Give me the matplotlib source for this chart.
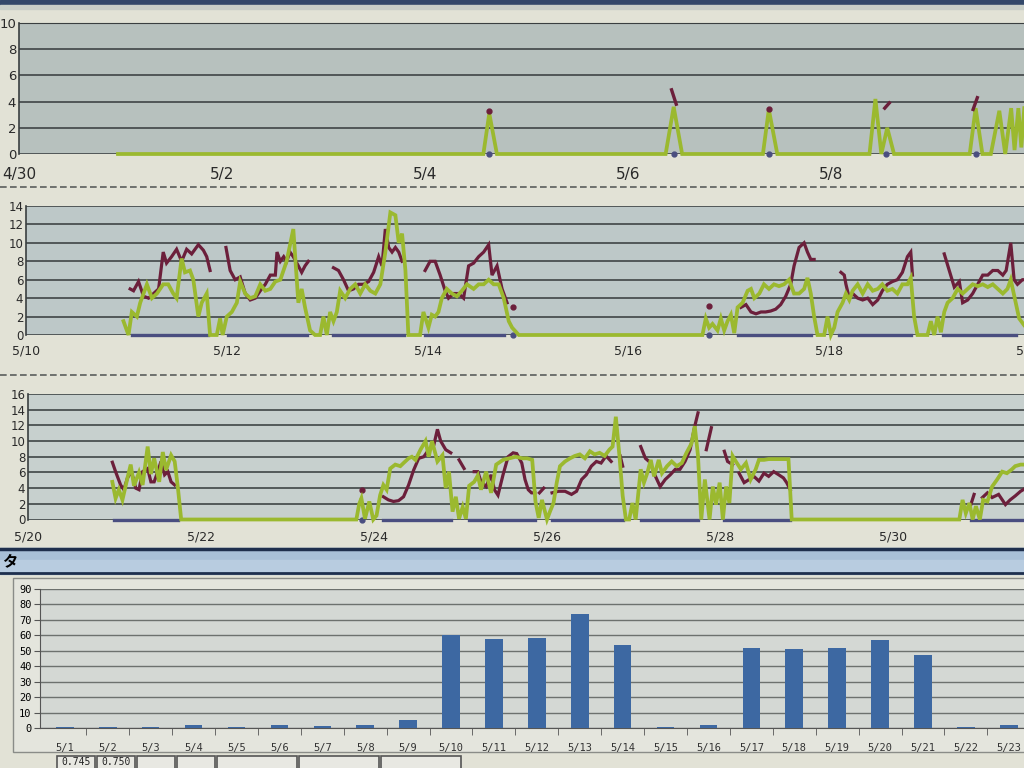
import numpy as np
import matplotlib
matplotlib.use("Agg")
import matplotlib.pyplot as plt
from matplotlib.patches import Rectangle

nan = np.nan

# ---- panel 1 : 4/30 - 5/10 (hours from 4/30 00:00) ----
p1_ticks = ["4/30", "5/2", "5/4", "5/6", "5/8"]
p1_green_h = [23.4, 109.8, 111.2, 113.0, 152.9, 154.8, 156.8, 175.9, 177.3, 179.3,
              201.1, 202.5, 203.9, 205.3, 206.9, 224.8, 226.2, 227.8, 229.8, 231.8,
              233.2, 234.6, 235.4, 236.3, 237.0, 237.7]
p1_green_v = [0, 0, 3.1, 0, 0, 3.6, 0, 0, 3.4, 0,
              0, 4.2, 0, 2.0, 0, 0, 3.5, 0, 0, 3.3,
              0, 3.5, 0.3, 3.5, 0.5, 3.5]
p1_red_h = [111.2, nan, 154.3, 155.4, nan, 177.3, nan, 204.7, 205.8, nan, 225.6, 226.6]
p1_red_v = [3.25, nan, 4.9, 3.8, nan, 3.45, nan, 3.5, 3.9, nan, 3.4, 4.3]
p1_blue_h = [111.2, nan, 154.8, nan, 177.3, nan, 204.9, nan, 226.2]

# ---- panel 2 : 5/10 - 5/20 ----
p2_ticks = ["5/10", "5/12", "5/14", "5/16", "5/18", "5/20"]
p2_green_h = [23.3, 24.5, 25.3, 26.5, 27.3, 28.9, 30.1, 31.3, 32.8, 34.0, 35.2, 36.0,
              37.2, 38.0, 39.2, 40.0, 41.2, 42.0, 43.2, 44.0, 45.6, 46.4, 47.0, 48.0,
              49.2, 50.4, 51.2, 52.4, 53.6, 54.8, 56.0, 57.2, 58.4, 59.6, 60.8, 62.3,
              63.9, 65.1, 65.9, 66.7, 67.9, 69.1, 70.3, 71.1, 71.9, 72.7, 73.5, 74.3,
              75.1, 76.3, 77.5, 78.7, 79.9, 81.1, 82.3, 83.5, 84.7, 85.9, 87.1, 88.3,
              89.1, 89.9, 90.7, 91.4, 94.2, 95.0, 96.2, 97.0, 97.8, 98.6, 99.4, 100.6,
              101.8, 103.0, 104.2, 105.4, 107.0, 108.2, 109.4, 110.6, 111.8, 113.0, 114.2, 115.4,
              116.2, 117.8, 161.7, 162.5, 163.3, 164.1, 165.3, 166.1, 166.9, 167.7, 168.5, 169.3,
              170.1, 171.3, 172.5, 173.3, 174.1, 175.3, 176.4, 177.6, 178.8, 180.0, 181.2, 182.4,
              183.6, 184.8, 186.0, 186.8, 187.6, 188.4, 189.2, 190.8, 191.6, 192.4, 193.2, 194.0,
              195.2, 196.0, 196.8, 197.6, 198.8, 200.0, 201.2, 202.4, 203.6, 204.7, 205.9, 207.1,
              208.3, 209.5, 210.7, 211.5, 212.3, 213.1, 215.5, 216.3, 217.1, 217.9, 218.7, 219.5,
              220.3, 221.5, 222.7, 223.9, 225.1, 226.3, 227.5, 228.7, 229.9, 231.1, 232.3, 233.5,
              234.6, 235.4, 236.6, 237.4, 238.7, 240.0]
p2_green_v = [1.5, 0, 2.5, 2.0, 3.5, 5.5, 4.0, 4.5, 5.5, 5.5, 4.5, 4.0,
              8.3, 6.8, 7.0, 6.0, 2.0, 3.5, 4.5, 0, 0, 1.8, 0, 2.0,
              2.5, 3.5, 5.8, 4.5, 4.0, 4.2, 5.5, 4.8, 5.0, 5.8, 6.0, 8.0,
              11.5, 3.5, 5.0, 3.0, 0.5, 0, 0, 2.0, 0, 2.5, 1.5, 2.5,
              4.8, 4.0, 5.0, 5.5, 4.5, 5.5, 4.8, 4.5, 5.5, 9.0, 13.3, 13.0,
              10.0, 11.0, 7.0, 0, 0, 2.5, 0.8, 2.2, 2.0, 2.5, 4.0, 5.0,
              4.5, 4.2, 4.8, 5.5, 5.0, 5.5, 5.5, 6.0, 5.5, 5.5, 4.0, 1.5,
              0.8, 0, 0, 1.8, 0.8, 1.2, 0.5, 1.8, 0.5, 1.5, 2.2, 0.2,
              3.0, 3.5, 4.8, 5.0, 4.0, 4.5, 5.5, 5.0, 5.5, 5.3, 5.5, 6.0,
              4.5, 4.5, 5.0, 6.2, 4.5, 2.0, 0, 0, 2.0, 0, 0.8, 2.5,
              3.5, 4.5, 3.8, 4.8, 5.5, 4.5, 5.5, 4.8, 5.0, 5.5, 4.8, 5.0,
              4.5, 5.5, 5.5, 6.2, 2.0, 0, 0, 1.5, 0, 2.0, 0.3, 2.5,
              3.5, 4.0, 5.0, 4.5, 5.0, 5.5, 5.3, 5.5, 5.2, 5.5, 5.0, 4.5,
              5.0, 6.0, 3.5, 1.8, 1.0, 0.5]
p2_red_h = [24.9, 25.7, 26.9, 28.1, 29.3, 30.5, 31.7, 32.8, 33.6, 34.8, 36.0, 37.2,
            38.4, 39.6, 41.2, 42.4, 43.2, 44.0, nan,
            47.8, 48.8, 50.0, 51.2, 52.4, 53.6, 54.8, 56.0, 57.2, 58.4, 59.6, 60.0,
            60.8, 61.6, 62.3, 63.1, 63.9, 65.1, 65.9, 66.7, 67.5, nan,
            73.5, 74.7, 75.9, 77.1, 78.3, 79.5, 80.7, 81.9, 83.1, 84.3, 85.1, 85.9,
            86.7, 87.5, 88.3, 89.1, 89.9, nan,
            95.4, 96.6, 97.8, 99.0, 100.2, 101.0, 102.2, 103.4, 104.6, 105.8, 107.0, 108.2,
            109.4, 110.6, 111.4, 112.6, 113.8, 115.0, nan,
            116.5, nan, 163.3, nan,
            170.9, 172.1, 173.3, 174.5, 175.7, 176.8, 178.0, 179.2, 180.4, 181.6, 182.8, 183.6,
            184.8, 186.0, 186.8, 187.6, 188.4, nan,
            194.8, 195.6, 196.0, 196.8, 197.6, 198.8, 200.0, 201.2, 202.4, 203.6, 204.7, 205.9,
            207.1, 208.3, 209.5, 210.7, 211.5, 211.9, nan,
            219.5, 220.7, 221.9, 223.1, 223.9, 225.1, 226.3, 227.5, 228.7, 229.9, 231.1, 232.3,
            233.5, 234.3, 235.4, 236.2, 237.0, 238.2, 240.0]
p2_red_v = [5.0, 4.8, 5.8, 4.2, 4.0, 4.5, 5.0, 9.0, 7.8, 8.5, 9.3, 8.0,
            9.3, 8.8, 9.8, 9.2, 8.5, 7.0, nan,
            9.5, 7.0, 6.0, 6.3, 4.5, 3.8, 4.0, 4.8, 5.5, 6.5, 6.5, 9.0,
            8.0, 8.5, 8.0, 9.0, 8.5, 7.5, 6.8, 7.5, 8.0, nan,
            7.3, 7.0, 6.0, 4.8, 5.0, 5.5, 5.5, 5.8, 6.8, 8.5, 7.5, 11.5,
            9.5, 9.0, 9.5, 9.0, 8.0, nan,
            7.0, 8.0, 8.0, 6.5, 4.8, 4.0, 4.5, 4.5, 4.0, 7.5, 7.8, 8.5,
            9.0, 9.8, 6.5, 7.5, 5.0, 3.5, nan,
            3.0, nan, 3.2, nan,
            3.0, 3.3, 2.5, 2.3, 2.5, 2.5, 2.6, 2.8, 3.3, 4.2, 5.5, 7.5,
            9.5, 10.0, 9.0, 8.2, 8.2, nan,
            6.8, 6.5, 5.5, 4.0, 4.5, 4.0, 3.8, 4.0, 3.3, 3.8, 4.8, 5.5,
            5.8, 6.0, 6.8, 8.5, 9.0, 6.5, nan,
            8.8, 7.0, 5.2, 5.8, 3.5, 3.8, 4.5, 5.5, 6.5, 6.5, 7.0, 7.0,
            6.5, 7.0, 10.0, 6.0, 5.5, 6.0, 6.0]
p2_blue_h = [25.3, 43.6, nan, 48.4, 67.1, nan, 73.5, 90.3, nan, 95.4, 114.2, nan,
             116.5, nan, 163.3, nan, 170.1, 187.6, nan, 194.4, 211.5, nan, 219.1, 236.6]

# ---- panel 3 : 5/20 - 6/1 ----
p3_ticks = ["5/20", "5/22", "5/24", "5/26", "5/28", "5/30"]
p3_green_h = [23.4, 24.3, 25.2, 26.2, 27.6, 28.5, 29.4, 30.8, 31.8, 33.2, 34.1, 35.0,
              36.4, 37.4, 38.3, 39.7, 40.7, 41.6, 42.5, 91.1, 91.9, 92.5, 93.5, 94.7,
              95.8, 96.7, 97.7, 98.6, 99.5, 100.5, 101.9, 103.3, 104.2, 105.6, 106.5, 107.5,
              108.9, 110.3, 111.2, 112.1, 113.6, 115.0, 115.9, 116.8, 117.8, 118.7, 119.6, 120.6,
              121.5, 122.4, 123.8, 124.8, 125.7, 127.1, 128.5, 129.9, 131.8, 133.6, 135.3, 137.2,
              138.5, 139.9, 140.8, 141.7, 142.6, 144.0, 144.9, 145.8, 146.7, 147.6, 149.0, 150.4,
              151.7, 153.1, 154.5, 155.9, 157.2, 158.6, 160.0, 161.3, 162.2, 163.1, 164.1, 165.0,
              165.9, 166.8, 167.7, 168.6, 170.0, 170.9, 171.8, 172.8, 173.7, 175.0, 175.9, 177.3,
              178.6, 180.0, 181.4, 182.7, 184.1, 185.0, 185.9, 186.8, 187.8, 189.1, 190.0, 190.9,
              191.9, 192.8, 193.7, 194.6, 195.5, 196.4, 197.8, 199.2, 200.5, 201.9, 202.8, 204.2,
              205.5, 207.0, 208.3, 209.6, 211.0, 211.9, 258.4, 259.3, 260.2, 261.2, 262.1, 263.0,
              264.1, 265.0, 266.2, 267.5, 268.9, 270.3, 271.6, 273.0, 273.9, 275.4, 276.5]
p3_green_v = [4.8, 2.7, 3.8, 2.5, 5.3, 7.0, 4.3, 6.0, 4.4, 9.3, 5.8, 7.8,
              4.8, 8.6, 6.3, 8.2, 7.4, 4.0, 0, 0, 2.0, 2.7, 0.1, 2.3,
              0, 0.5, 3.1, 4.4, 3.8, 6.5, 7.0, 6.8, 7.2, 7.8, 8.0, 7.6,
              8.9, 10.0, 8.0, 10.0, 7.4, 8.2, 4.0, 6.1, 1.0, 2.9, 0.1, 1.6,
              0.1, 4.3, 4.8, 5.6, 3.8, 6.1, 3.4, 7.0, 7.6, 7.8, 8.0, 7.8,
              7.8, 7.6, 2.3, 0.2, 2.5, 0, 1.1, 2.1, 4.7, 6.8, 7.4, 7.8,
              8.1, 8.3, 7.8, 8.7, 8.3, 8.5, 8.1, 8.9, 9.3, 13.1, 8.1, 3.0,
              0, 0, 2.1, 0, 6.4, 4.7, 5.9, 7.6, 5.5, 7.6, 5.9, 6.8,
              7.4, 6.8, 7.2, 8.5, 9.7, 11.9, 8.1, 0, 5.1, 0, 4.2, 1.9,
              4.7, 0, 4.2, 2.1, 8.1, 7.4, 6.4, 7.2, 5.1, 6.4, 7.6, 7.6,
              7.7, 7.7, 7.7, 7.7, 7.7, 0, 0, 2.5, 0.8, 2.1, 0, 1.7,
              0, 2.5, 2.3, 4.2, 5.1, 6.1, 5.9, 6.4, 6.8, 7.0, 7.0]
p3_red_h = [23.4, 24.3, 25.7, 26.6, 27.6, 28.7, 29.9, 30.8, 31.8, 33.2, 34.1, 35.0,
            36.0, 36.9, 37.9, 38.8, 39.7, 40.7, nan,
            92.8, nan,
            98.6, 100.0, 101.4, 102.8, 104.2, 105.6, 107.0, 108.4, 109.8, 111.2, 112.6, 113.6,
            114.5, 115.9, 117.3, nan,
            119.6, 121.0, nan,
            123.8, 124.8, 125.7, 127.1, 128.5, 129.4, 130.4, 131.8, 133.2, 134.6, 135.6, 137.0,
            137.9, 138.8, 139.7, 140.6, nan,
            141.9, 143.1, nan,
            145.4, 147.2, 149.0, 150.8, 152.2, 153.6, 154.9, 156.3, 157.7, 159.0, 160.4, 161.8, nan,
            164.3, 165.0, nan,
            170.0, 171.3, 172.3, nan,
            174.1, 175.4, 176.8, 178.2, 179.6, 180.9, 182.3, 183.7, 185.0, 185.9, nan,
            188.2, 189.6, nan,
            193.2, 194.1, 195.5, nan,
            197.3, 198.7, 200.1, 201.4, 202.8, 204.2, 205.5, 206.9, 208.3, 209.6, 210.5, 211.5, nan,
            261.6, 262.5, nan,
            264.8, 266.2, 267.5, 269.3, 271.2, 272.5, 273.9, 275.4, 276.5]
p3_red_v = [7.3, 6.1, 4.4, 3.8, 5.3, 6.1, 4.0, 3.8, 6.1, 6.5, 4.8, 4.8,
            6.1, 7.4, 5.7, 6.1, 4.8, 4.4, nan,
            3.7, nan,
            2.9, 2.5, 2.3, 2.4, 2.9, 4.4, 6.3, 7.8, 8.0, 8.9, 9.5, 11.5,
            10.0, 8.9, 8.5, nan,
            7.6, 6.5, nan,
            6.1, 6.1, 4.8, 4.2, 5.7, 3.8, 3.1, 5.7, 8.0, 8.5, 8.4, 7.2,
            5.1, 3.8, 3.4, 3.4, nan,
            3.4, 4.0, nan,
            3.4, 3.6, 3.6, 3.2, 3.6, 5.1, 5.7, 6.8, 7.4, 7.2, 8.1, 7.4, nan,
            8.1, 6.8, nan,
            9.3, 7.8, 7.4, nan,
            5.5, 4.2, 5.1, 5.7, 6.4, 6.4, 7.4, 8.9, 11.9, 13.6, nan,
            8.9, 11.7, nan,
            8.7, 7.4, 7.0, nan,
            5.9, 4.7, 5.1, 5.5, 4.9, 5.9, 5.5, 6.1, 5.7, 5.3, 4.7, 3.8, nan,
            1.9, 3.2, nan,
            2.8, 3.4, 2.8, 3.2, 1.9, 2.5, 3.0, 3.6, 3.9]
p3_blue_h = [23.9, 41.6, nan, 92.8, nan, 98.6, 117.5, nan, 122.4, 140.6, nan,
             145.4, 165.0, nan, 170.0, 185.9, nan, 193.2, 211.5, nan, 261.6, 277.0]

# ---- daily bars ----
bar_days = ["5/%d" % d for d in range(1, 24)]
bar_vals = [0.6, 0.4, 0.4, 1.8, 0.4, 1.8, 1.5, 1.8, 5.5, 60, 57.5, 58.5, 73.5, 54,
            0.4, 1.8, 52, 51, 51.5, 57, 47, 0.4, 2.0]
table_vals = ["0.745", "0.750"]

GREEN = "#9bb92f"
RED = "#6c1f3b"
BLUE = "#4a4e80"
GRID = "#3f4546"

W, H = 1024, 768
fig = plt.figure(figsize=(W / 100, H / 100), dpi=100, facecolor="#e2e2d6")

# decorations drawn in pixel space
bg = fig.add_axes([0, 0, 1, 1], zorder=-5)
bg.set_xlim(0, W)
bg.set_ylim(H, 0)
bg.axis("off")
bg.add_patch(Rectangle((0, 0), W, 5, color="#33486a"))
bg.add_patch(Rectangle((0, 5), W, 4, color="#c9cfc8"))
for yy in (187, 375):
    bg.plot([0, W], [yy, yy], color="#5a5d5c", lw=1.2, ls=(0, (4, 2)))
bg.add_patch(Rectangle((0, 548), W, 26, color="#a8c0d8"))
bg.add_patch(Rectangle((0, 560), W, 12, color="#b8cce0"))
bg.plot([0, W], [549, 549], color="#1e2f4d", lw=2.5)
bg.plot([0, W], [573, 573], color="#1e2f4d", lw=2.0)
bg.text(2, 561, "タ", fontsize=11, fontweight="bold", va="center",
        family=["Noto Sans CJK JP", "DejaVu Sans"])
bg.add_patch(Rectangle((13, 578), W, 174, facecolor="#e4e5dd", edgecolor="#8a8c88", lw=1))
cell_x = [57, 97, 137, 177, 217, 299, 381]
cell_w = [38, 38, 38, 38, 80, 80, 80]
for i, (cx, cw) in enumerate(zip(cell_x, cell_w)):
    bg.add_patch(Rectangle((cx, 756), cw, 20, facecolor="#e8e8e2", edgecolor="#555", lw=1.2))
    if i < len(table_vals):
        bg.text(cx + cw / 2, 762, table_vals[i], fontsize=7, ha="center", va="center",
                family="DejaVu Sans Mono", color="#222")


def px_axes(left, top, width, height):
    return fig.add_axes([left / W, 1 - (top + height) / H, width / W, height / H])


def draw(ax, t, v, color, lw, ms):
    t = np.asarray(t, float)
    v = np.asarray(v, float)
    ax.plot(t, v, color=color, lw=lw, solid_joinstyle="miter", clip_on=False)
    ok = ~np.isnan(v)
    prev = np.r_[False, ok[:-1]]
    nxt = np.r_[ok[1:], False]
    iso = ok & ~prev & ~nxt
    ax.plot(t[iso], v[iso], "o", color=color, ms=ms, clip_on=False)


def style_line_axes(ax, face, ymax, ticks, xmax, xfs, yfs, pad):
    ax.set_facecolor(face)
    ax.set_xlim(0, xmax)
    ax.set_ylim(0, ymax)
    ax.set_yticks(range(0, ymax + 1, 2))
    ax.set_xticks([48 * i for i in range(len(ticks))])
    ax.set_xticklabels(ticks)
    ax.tick_params(axis="x", length=0, pad=pad, labelsize=xfs, colors="#2a2a2a")
    ax.tick_params(axis="y", length=0, pad=2, labelsize=yfs, colors="#2a2a2a")
    ax.yaxis.grid(True, color=GRID, lw=1.2)
    ax.set_axisbelow(True)
    for s in ("top", "right", "bottom"):
        ax.spines[s].set_visible(False)
    ax.spines["left"].set_color("#3a3f40")
    ax.spines["left"].set_linewidth(1.2)


# panel 1
ax1 = px_axes(19, 23, 1015, 131)
style_line_axes(ax1, "#b7c1be", 10, p1_ticks, 240, 11, 9.5, 9)
ax1.spines["top"].set_visible(True)
ax1.spines["top"].set_color("#3a3f40")
draw(ax1, p1_blue_h, np.where(np.isnan(p1_blue_h), nan, 0), BLUE, 2.2, 3.5)
draw(ax1, p1_green_h, p1_green_v, GREEN, 2.7, 3)
draw(ax1, p1_red_h, p1_red_v, RED, 2.4, 3.5)

# panel 2
ax2 = px_axes(26, 206, 1004, 129)
style_line_axes(ax2, "#bdc8c8", 14, p2_ticks, 240, 9, 8.5, 7)
draw(ax2, p2_blue_h, np.where(np.isnan(p2_blue_h), nan, 0), BLUE, 2.4, 3.5)
draw(ax2, p2_red_h, p2_red_v, RED, 2.3, 3.5)
draw(ax2, p2_green_h, p2_green_v, GREEN, 2.7, 3)

# panel 3
ax3 = px_axes(28, 394, 1038, 125.5)
style_line_axes(ax3, "#c7d0ce", 16, p3_ticks, 288, 9, 8.5, 8)
draw(ax3, p3_blue_h, np.where(np.isnan(p3_blue_h), nan, 0), BLUE, 2.4, 3.5)
draw(ax3, p3_red_h, p3_red_v, RED, 2.3, 3.5)
draw(ax3, p3_green_h, p3_green_v, GREEN, 2.7, 3)

# bar chart
ax4 = px_axes(40, 589, 1001, 139)
ax4.set_facecolor("#d4d8d4")
xpos = np.arange(1, len(bar_vals) + 1)
ax4.bar(xpos, bar_vals, width=0.41, color="#3d68a2", zorder=3)
ax4.set_xlim(0.42, 23.75)
ax4.set_ylim(0, 90)
ax4.set_yticks(range(0, 91, 10))
ax4.set_xticks(xpos)
ax4.set_xticklabels(bar_days, family="DejaVu Sans Mono")
ax4.set_xticks(xpos[:-1] + 0.5, minor=True)
ax4.tick_params(axis="x", which="major", length=0, pad=11, labelsize=7.5, colors="#333")
ax4.tick_params(axis="x", which="minor", length=5, color="#555", direction="out")
ax4.tick_params(axis="y", length=4, color="#555", pad=2, labelsize=7.5)
for lab in ax4.get_yticklabels():
    lab.set_family("DejaVu Sans Mono")
ax4.yaxis.grid(True, color="#6d716e", lw=1)
ax4.set_axisbelow(True)
for s in ("top", "right"):
    ax4.spines[s].set_visible(False)
ax4.spines["left"].set_color("#555")
ax4.spines["bottom"].set_color("#555")

fig.savefig("out.png", dpi=100, facecolor=fig.get_facecolor())
